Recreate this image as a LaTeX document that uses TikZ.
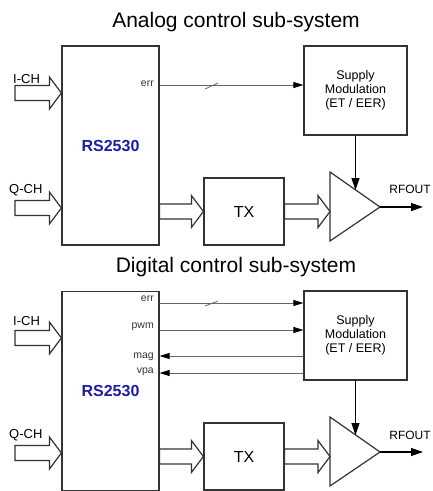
\documentclass[tikz,border=0pt]{standalone}
\usepackage{fontspec}
\setmainfont{Liberation Sans}
\usetikzlibrary{arrows.meta,calc,positioning}

% hollow bus arrow from #1 to the tip #2 (horizontal)
\newcommand{\fatarrow}[2]{%
  \draw[outline, line join=miter] ($(#1)+(0,-7.5)$) -- ($(#2)+(-12,-7.5)$) -- ($(#2)+(-12,-16)$) -- (#2)
       -- ($(#2)+(-12,16)$) -- ($(#2)+(-12,7.5)$) -- ($(#1)+(0,7.5)$) -- cycle;}

\begin{document}
\begin{tikzpicture}[x=1pt, y=-1pt,
    outline/.style={draw=boxgray, line width=1.2pt},
    blk/.style={outline, rectangle, inner sep=0pt},
    title/.style={anchor=base, inner sep=0pt, font=\fontsize{21}{24}\selectfont},
    chlabel/.style={anchor=base west, inner sep=0pt, font=\fontsize{13}{15}\selectfont},
    siglabel/.style={anchor=base east, inner sep=0pt, text=black!80, font=\fontsize{10.5}{12}\selectfont},
    sig/.style={draw=siggray, line width=0.8pt},
    sigarrow/.style={sig, -{Triangle[length=10pt,width=6pt,color=black]}},
    pwr/.style={draw=black, line width=1.3pt, -{Triangle[length=12pt,width=8pt]}}]
    \colorlet{boxgray}{black!80}
    \colorlet{siggray}{black!60}
    \definecolor{rsblue}{RGB}{28,28,168}

    \useasboundingbox (0,0) rectangle (432,491);

    % Analog control sub-system
    \begin{scope}
    \node[title] (titleA) at (236,27) {Analog control sub-system};

    % the blocks
    \node[blk, minimum width=97pt, minimum height=199pt, text=rsblue,
          font=\fontsize{16}{18}\selectfont\bfseries] (rsA) at (110.5,145.5) {RS2530};
    \node[blk, minimum width=103pt, minimum height=89pt, align=center,
          font=\fontsize{12.5}{14}\selectfont] (supA) at (355.5,90.5) {Supply\\Modulation\\(ET / EER)};
    \node[blk, minimum width=80pt, minimum height=67pt,
          font=\fontsize{16}{18}\selectfont] (txA) at (244,211.5) {TX};
    \draw[outline, line join=miter] (330,172) -- (380,207) coordinate (ampA) -- (330,241) -- cycle;

    % I/Q inputs and TX path
    \node[chlabel] (iA) at (13,83) {I-CH};
    \node[chlabel] (qA) at (9,193) {Q-CH};
    \coordinate (iAtail) at (15,93);
    \coordinate (qAtail) at (15,208);
    \coordinate (ampAleft) at (330,211.5);
    \fatarrow{iAtail}{rsA.west |- iAtail}
    \fatarrow{qAtail}{rsA.west |- qAtail}
    \fatarrow{rsA.east |- txA.west}{txA.west}
    \fatarrow{txA.east}{ampAleft}

    % err signal
    \node[siglabel] (errA) at (154,86) {err};
    \draw[sigarrow] (rsA.east |- 0,85) -- (supA.west |- 0,85);
    \draw[sig] (205,89) -- (218,83);

    % supply and RF output
    \coordinate (ampAin) at (355.5,190);
    \coordinate (outA) at (423,207);
    \draw[pwr] (supA.south) -- (ampAin);
    \draw[pwr] (ampA) -- (outA);
    \node[inner sep=0pt, font=\fontsize{12}{14}\selectfont] (rfA) at (410,189) {RFOUT};
    \end{scope}

    % Digital control sub-system (same layout, shifted down)
    \begin{scope}[yshift=-245pt]
    \node[title] (titleD) at (236,27) {Digital control sub-system};

    % the blocks
    \node[blk, minimum width=97pt, minimum height=199pt, text=rsblue,
          font=\fontsize{16}{18}\selectfont\bfseries] (rsD) at (110.5,146) {RS2530};
    \node[blk, minimum width=103pt, minimum height=89pt, align=center,
          font=\fontsize{12.5}{14}\selectfont] (supD) at (355.5,90.5) {Supply\\Modulation\\(ET / EER)};
    \node[blk, minimum width=80pt, minimum height=67pt,
          font=\fontsize{16}{18}\selectfont] (txD) at (244,211.5) {TX};
    \draw[outline, line join=miter] (330,172) -- (380,207) coordinate (ampD) -- (330,241) -- cycle;

    % I/Q inputs and TX path
    \node[chlabel] (iD) at (13,80) {I-CH};
    \node[chlabel] (qD) at (9,193) {Q-CH};
    \coordinate (iDtail) at (15,93);
    \coordinate (qDtail) at (15,208);
    \coordinate (ampDleft) at (330,211.5);
    \fatarrow{iDtail}{rsD.west |- iDtail}
    \fatarrow{qDtail}{rsD.west |- qDtail}
    \fatarrow{rsD.east |- txD.west}{txD.west}
    \fatarrow{txD.east}{ampDleft}

    % control signals
    \node[siglabel] (errD) at (154,56) {err};
    \node[siglabel] (pwmD) at (154,83) {pwm};
    \node[siglabel] (magD) at (154,113) {mag};
    \node[siglabel] (vpaD) at (154,128) {vpa};
    \draw[sigarrow] (rsD.east |- 0,58) -- (supD.west |- 0,58);
    \draw[sigarrow] (rsD.east |- 0,85) -- (supD.west |- 0,85);
    \draw[sigarrow] (supD.west |- 0,111) -- (rsD.east |- 0,111);
    \draw[sigarrow] (supD.west |- 0,128) -- (rsD.east |- 0,128);
    \draw[sig] (205,61) -- (218,56);

    % supply and RF output
    \coordinate (ampDin) at (355.5,190);
    \coordinate (outD) at (423,207);
    \draw[pwr] (supD.south) -- (ampDin);
    \draw[pwr] (ampD) -- (outD);
    \node[inner sep=0pt, font=\fontsize{12}{14}\selectfont] (rfD) at (410,190) {RFOUT};
    \end{scope}
\end{tikzpicture}
\end{document}
